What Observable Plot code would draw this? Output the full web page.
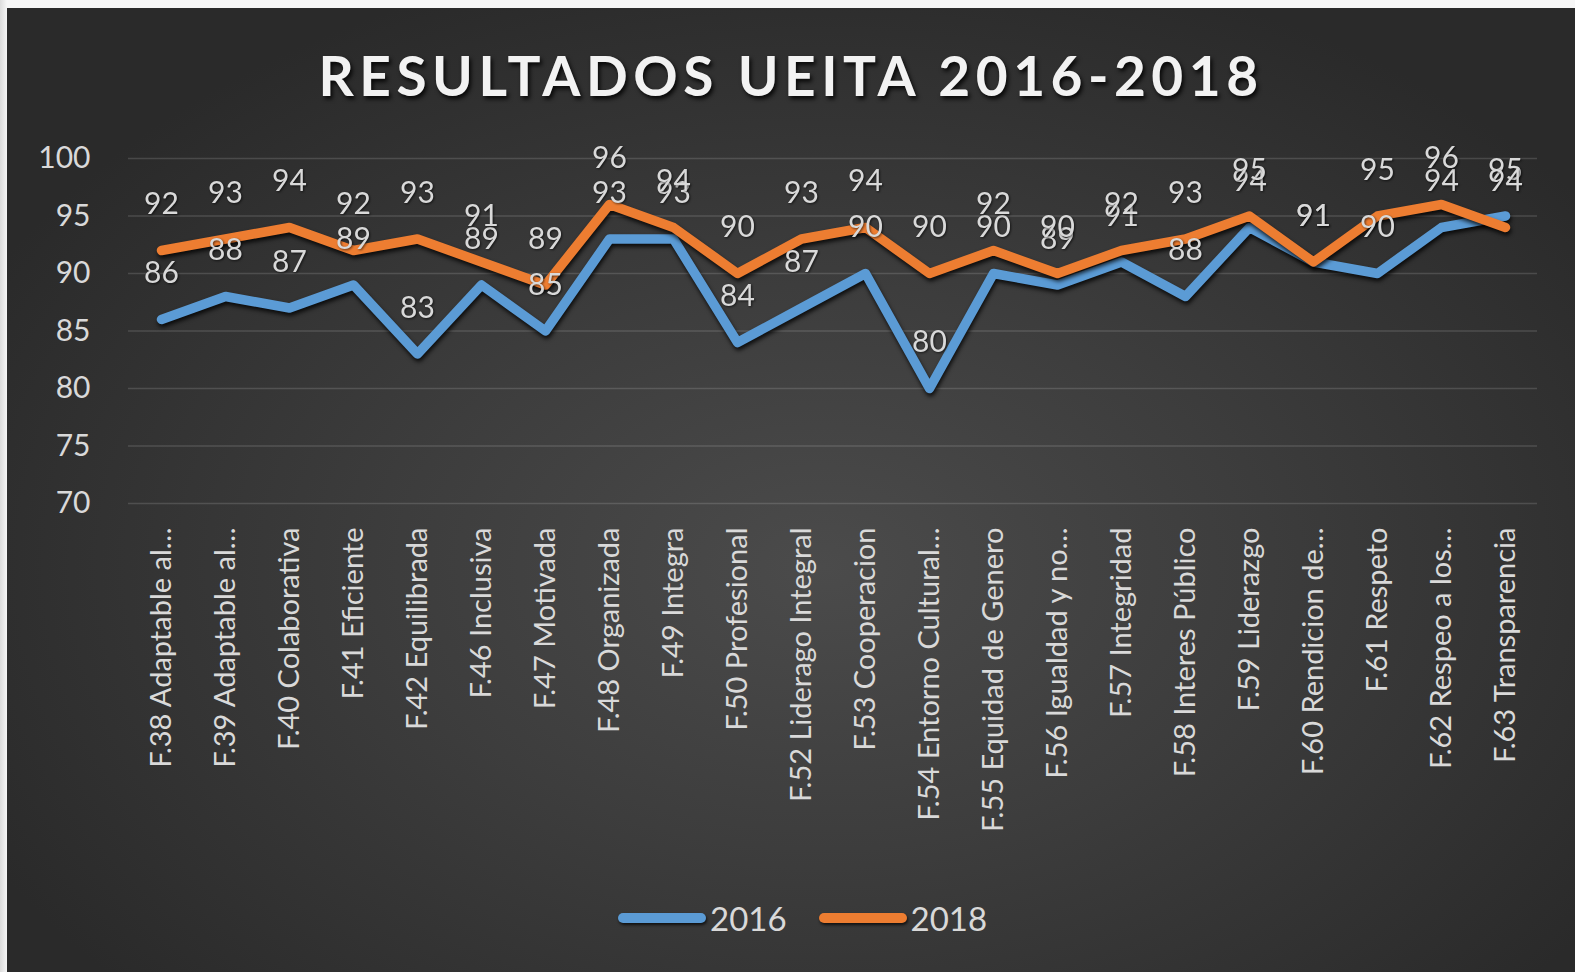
<!DOCTYPE html>
<html>
<head>
<meta charset="utf-8">
<script src="https://cdn.jsdelivr.net/npm/d3@7"></script>
<script src="https://cdn.jsdelivr.net/npm/@observablehq/plot@0.6"></script>
<style>
  html, body { margin: 0; padding: 0; background: #f4f4f4; }
  body { width: 1575px; height: 972px; overflow: hidden; position: relative;
         background: linear-gradient(90deg, #dcdcdc 0px, #f6f6f6 7px); }
  #card { position: absolute; left: 7px; top: 8px; width: 1568px; height: 964px; overflow: hidden;
          background: radial-gradient(ellipse 60% 65% at 52% 58%, #4b4b4b 0%, #3d3d3d 45%, #2a2a2a 100%);
          font-family: Lato, "Open Sans", sans-serif; }
  #title { position: absolute; left: 0; width: 100%; top: 40px; text-align: center;
           font-family: Lato, sans-serif; font-weight: bold; font-size: 55px; letter-spacing: 5.5px;
           color: #f2f2f2; text-shadow: 2px 3px 4px rgba(0,0,0,0.85); line-height: 1; }
  #chart { position: absolute; left: 0; top: 120px; }
  #chart svg { overflow: visible; }
  #chart g[aria-label="line"] path { filter: drop-shadow(1px 3px 2px rgba(0,0,0,0.8)); }
  #chart g.vlabels text { filter: drop-shadow(1px 1px 1px rgba(0,0,0,0.6)); }
  #legend { position: absolute; left: 611px; top: 890px; display: flex; align-items: center;
            font-family: Lato, sans-serif; font-size: 33px; color: #d9d9d9; }
  .sw { width: 88px; height: 10px; border-radius: 5px; margin-right: 4px;
        box-shadow: 1px 2px 3px rgba(0,0,0,0.7); }
  .item { display: flex; align-items: center; margin-right: 32px; }
</style>
</head>
<body>
<div id="card">
  <div id="title">RESULTADOS UEITA 2016-2018</div>
  <div id="chart"></div>
  <div id="legend"></div>
</div>
<script>
const categories = [
  "F.38 Adaptable al…", "F.39 Adaptable al…", "F.40 Colaborativa", "F.41 Eficiente",
  "F.42 Equilibrada", "F.46 Inclusiva", "F.47 Motivada", "F.48 Organizada",
  "F.49 Integra", "F.50 Profesional", "F.52 Liderago Integral", "F.53 Cooperacion",
  "F.54 Entorno Cultural…", "F.55 Equidad de Genero", "F.56 Igualdad y no…", "F.57 Integridad",
  "F.58 Interes Público", "F.59 Liderazgo", "F.60 Rendicion de…", "F.61 Respeto",
  "F.62 Respeo a los…", "F.63 Transparencia"
];
const values2016 = [86, 88, 87, 89, 83, 89, 85, 93, 93, 84, 87, 90, 80, 90, 89, 91, 88, 94, 91, 90, 94, 95];
const values2018 = [92, 93, 94, 92, 93, 91, 89, 96, 94, 90, 93, 94, 90, 92, 90, 92, 93, 95, 91, 95, 96, 94];
const seriesNames = ["2016", "2018"];
const seriesColors = ["#5b9bd5", "#ed7d31"];
const yTicks = [70, 75, 80, 85, 90, 95, 100];

const rows = [];
[values2016, values2018].forEach((vals, s) => {
  vals.forEach((v, i) => rows.push({ cat: categories[i], value: v, series: seriesNames[s] }));
});
const s2016 = rows.filter(d => d.series === "2016");
const s2018 = rows.filter(d => d.series === "2018");

const plot = Plot.plot({
  width: 1568,
  height: 760,
  marginTop: 30,
  marginBottom: 385,
  marginLeft: 121,
  marginRight: 38,
  style: { background: "transparent", fontFamily: "Lato, 'Open Sans', sans-serif", color: "#d9d9d9" },
  x: { type: "point", domain: categories, padding: 0.5, axis: null },
  y: { domain: [70, 100], axis: null },
  color: { domain: seriesNames, range: seriesColors },
  marks: [
    Plot.gridY(yTicks, { stroke: "#ffffff", strokeOpacity: 0.14, strokeWidth: 1.3 }),
    Plot.axisY(yTicks, { tickSize: 0, tickPadding: 38, fontSize: 30, fill: "#d9d9d9", label: null }),
    Plot.text(categories, { x: d => d, frameAnchor: "bottom", rotate: -90, textAnchor: "end",
      lineAnchor: "middle", dy: 24, fontSize: 29, fill: "#d9d9d9" }),
    Plot.line(s2016, { x: "cat", y: "value", stroke: "series", strokeWidth: 9.5,
      strokeLinejoin: "round", strokeLinecap: "round" }),
    Plot.line(s2018, { x: "cat", y: "value", stroke: "series", strokeWidth: 9.5,
      strokeLinejoin: "round", strokeLinecap: "round" }),
    Plot.text(s2016, { x: "cat", y: "value", text: d => String(d.value), dy: -46,
      lineAnchor: "middle", fontSize: 30, fill: "#d9d9d9", className: "vlabels" }),
    Plot.text(s2018, { x: "cat", y: "value", text: d => String(d.value), dy: -46,
      lineAnchor: "middle", fontSize: 30, fill: "#d9d9d9", className: "vlabels" })
  ]
});
document.getElementById("chart").appendChild(plot);

const legend = document.getElementById("legend");
seriesNames.forEach((name, i) => {
  const item = document.createElement("div");
  item.className = "item";
  const sw = document.createElement("div");
  sw.className = "sw";
  sw.style.background = seriesColors[i];
  const lab = document.createElement("span");
  lab.textContent = name;
  item.appendChild(sw);
  item.appendChild(lab);
  legend.appendChild(item);
});
</script>
</body>
</html>
